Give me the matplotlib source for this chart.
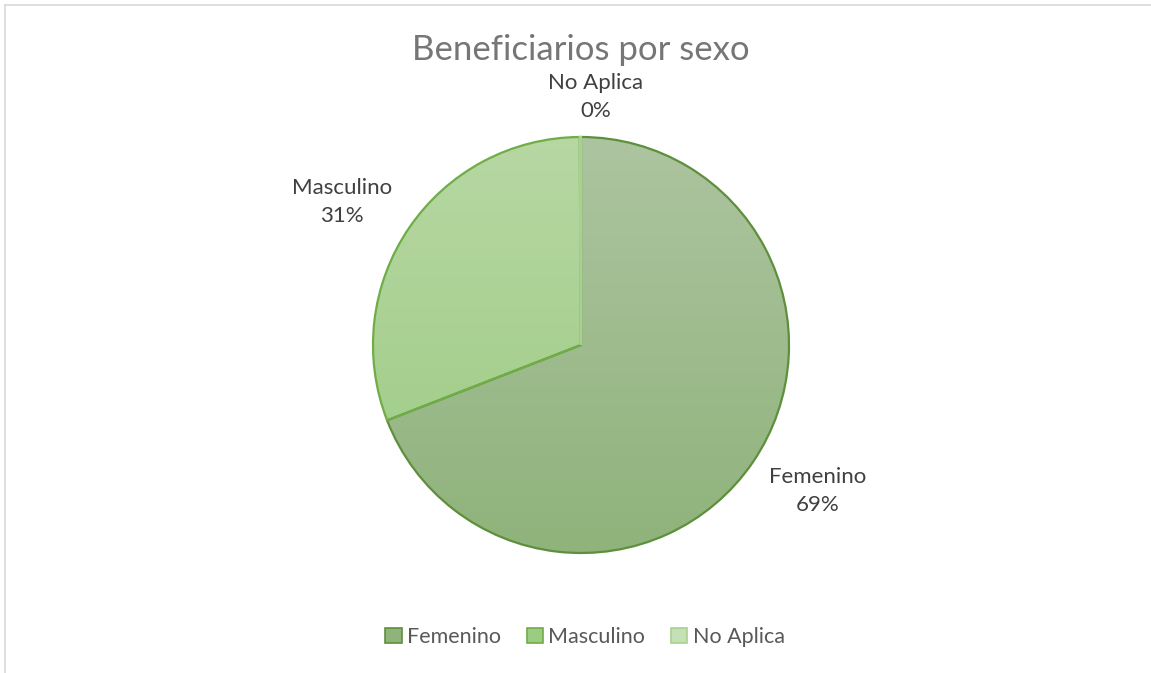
import numpy as np
import matplotlib
matplotlib.use('Agg')
import matplotlib.pyplot as plt
from matplotlib.lines import Line2D
from matplotlib.patches import Patch
from matplotlib.colors import LinearSegmentedColormap

plt.rcParams['font.family'] = ['Lato', 'DejaVu Sans']

# data
categories = ['Femenino', 'Masculino', 'No Aplica']
shares = [69.1, 30.8, 0.1]
pct_labels = ['69%', '31%', '0%']

# gradient ends (top, bottom) and edge colour for each slice
top_colors = ['#adc4a0', '#b7d7a3', '#d3e6c7']
bottom_colors = ['#8fb37b', '#9ccb82', '#c5e0b4']
edge_colors = ['#5e8f3c', '#6fad47', '#a9d18e']

W, H = 1151, 673
fig = plt.figure(figsize=(W / 100, H / 100), dpi=100)
ax = fig.add_axes([0, 0, 1, 1])

cx, cy, r = 581, H - 345, 208
wedges, _ = ax.pie(shares, startangle=90, counterclock=False,
                   center=(cx, cy), radius=r, frame=True,
                   wedgeprops=dict(facecolor='none', linewidth=1.6))
ax.set_xlim(0, W)
ax.set_ylim(0, H)
ax.set_aspect('equal')
ax.axis('off')

# vertical gradient inside each slice
grad = np.linspace(1, 0, 256).reshape(-1, 1)
for w, c0, c1, ec in zip(wedges, top_colors, bottom_colors, edge_colors):
    cmap = LinearSegmentedColormap.from_list('g', [c1, c0])
    im = ax.imshow(grad, cmap=cmap, extent=(cx - r, cx + r, cy - r, cy + r),
                   aspect='auto', zorder=1, origin='upper', vmin=0, vmax=1)
    im.set_clip_path(w)
    w.set_edgecolor(ec)
    w.set_zorder(2)

# data labels
label_pos = [(818, 491), (342, 202), (596, 97)]
for (px, py), name, pct in zip(label_pos, categories, pct_labels):
    ax.text(px, H - py, f'{name}\n{pct}', ha='center', va='center',
            fontsize=16, color='#404040', linespacing=1.55)

ax.text(581, H - 50, 'Beneficiarios por sexo', ha='center', va='center',
        fontsize=25, color='#767676')

handles = [Patch(facecolor=c, edgecolor=e, linewidth=1.2)
           for c, e in zip(bottom_colors, edge_colors)]
fig.legend(handles, categories, loc='center', bbox_to_anchor=(585 / W, 1 - 637 / H),
           ncol=3, frameon=False, fontsize=15.5, handlelength=0.75, handleheight=0.75,
           handletextpad=0.25, columnspacing=1.2, labelcolor='#595959')

# chart border (partly cropped in the original)
fig.add_artist(Line2D([5 / W, 5 / W], [0, 1 - 5 / H], color='#d9d9d9', lw=1.2))
fig.add_artist(Line2D([5 / W, 1], [1 - 5 / H, 1 - 5 / H], color='#d9d9d9', lw=1.2))

fig.savefig('out.png', dpi=100, facecolor='white')
